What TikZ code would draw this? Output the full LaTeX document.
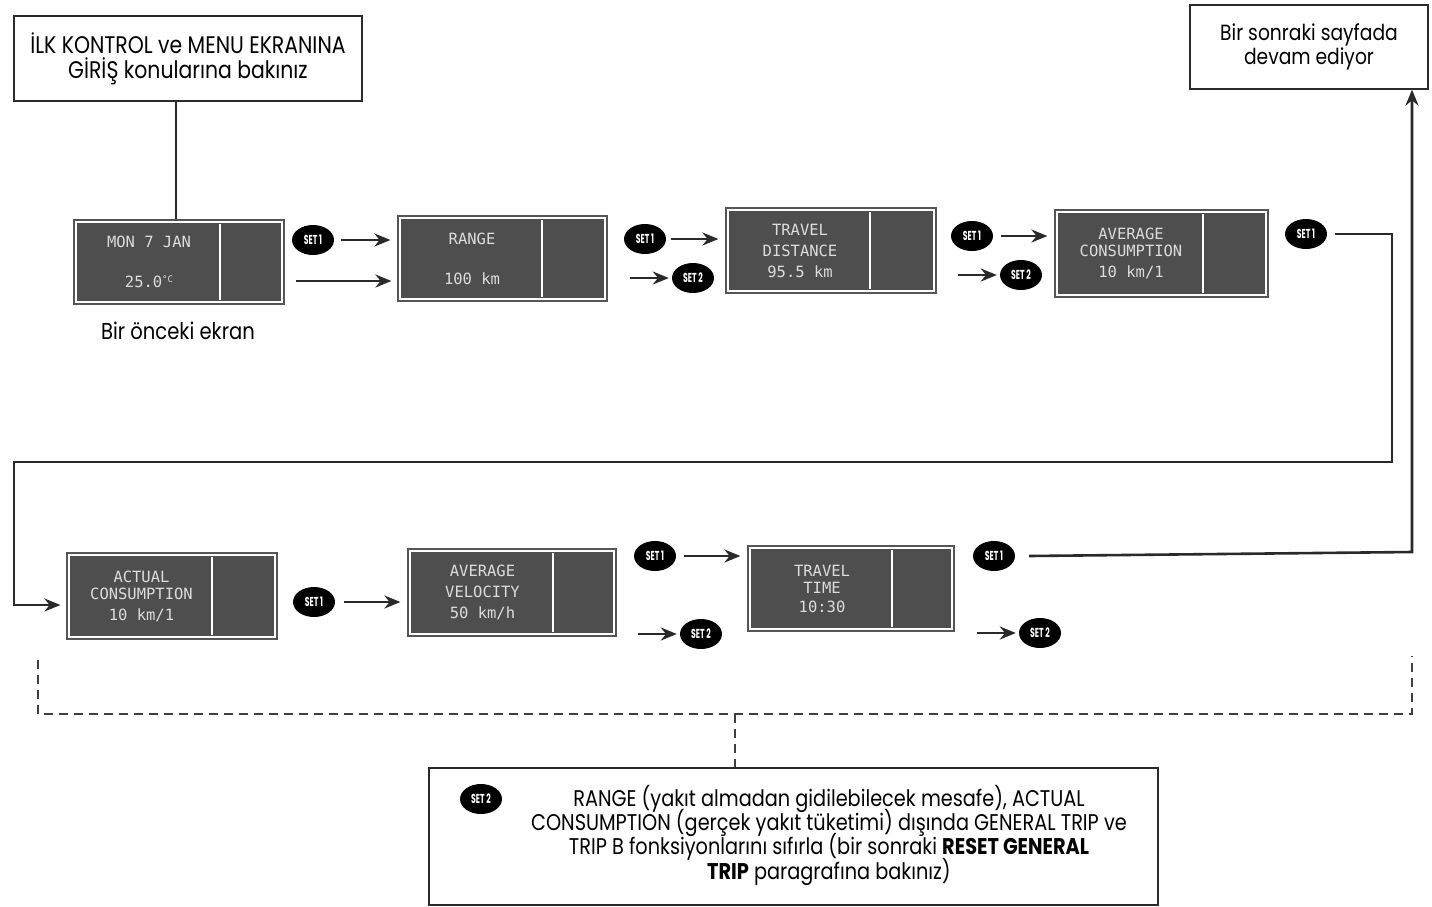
\documentclass[tikz,border=0pt]{standalone}
\usepackage{fontspec}
\setmainfont{Poppins}[FakeStretch=0.85]
\newfontfamily\dispfont{DejaVu Sans Mono}
\newfontfamily\btnfont{Poppins}[FakeStretch=0.6]
\usetikzlibrary{arrows.meta,shapes.geometric,calc,fit}
\definecolor{scr}{HTML}{4E4E4E}
\definecolor{lcd}{HTML}{DCDCDC}
\definecolor{ink}{HTML}{2A2A2A}
\tikzset{
  note/.style={draw=ink, line width=1.2pt, fill=white, align=center, inner sep=0pt},
  frame/.style={draw=ink!80, line width=1.2pt, fill=white, inner sep=0pt},
  lcdtext/.style={text=lcd, font=\dispfont\fontsize{15.5}{20}\selectfont, align=center, inner sep=0pt},
  setbtn/.style={ellipse, fill=black, text=white, minimum width=42pt, minimum height=30pt, inner sep=0pt, font=\btnfont\bfseries\fontsize{13}{13}\selectfont},
  arr/.style={draw=ink, line width=2.6pt, -{Stealth[length=16pt,width=13pt]}},
  link/.style={draw=ink, line width=2.2pt},
  dashline/.style={draw=ink!90, line width=2.2pt, dash pattern=on 9pt off 6pt},
}
% name, x1, y1, x2, y2, divider x, text
\newcommand\lcdbox[7]{%
  \node[frame, fit={(#2,#3)(#4,#5)}] (#1) {};
  \fill[scr] ($(#1.north west)+(4,4)$) rectangle ($(#1.south east)+(-4,-4)$);
  \draw[white, line width=1.5pt] (#6,#3+4) -- (#6,#5-4);
  \node[lcdtext] (#1t) at ({(#2+4+#6)/2},{(#3+#5)/2}) {#7};
}
\begin{document}
\begin{tikzpicture}[x=1pt,y=-1pt]
\useasboundingbox (0,0) rectangle (1432,906);
\fill[white] (0,0) rectangle (1432,906);

% top notes
\node[note, minimum width=348pt, minimum height=85pt, font=\fontsize{24}{25}\selectfont] (ilk) at (188,58.5)
  {İLK KONTROL ve MENU EKRANINA\\GİRİŞ konularına bakınız};
\node[note, minimum width=238pt, minimum height=84pt, font=\fontsize{22}{24}\selectfont] (bir) at (1309,47)
  {Bir sonraki sayfada\\devam ediyor};

% displays, row 1
\lcdbox{b1}{74}{220}{284}{304}{220}{MON 7 JAN\\[20pt]25.0\raisebox{5pt}{\fontsize{9}{9}\selectfont °C}}
\lcdbox{b2}{398}{216}{607}{301}{542}{RANGE\\[20pt]100 km}
\lcdbox{b3}{726}{208}{936}{293}{870}{TRAVEL\\[1pt]DISTANCE\\[1pt]95.5 km}
\lcdbox{b4}{1055}{210}{1268}{297}{1203}{AVERAGE\\[-3pt]CONSUMPTION\\[1pt]10 km/1}
% displays, row 2
\lcdbox{b5}{67}{553}{277}{639}{212}{ACTUAL\\[-3pt]CONSUMPTION\\[1pt]10 km/1}
\lcdbox{b6}{408}{549}{616}{636}{553}{AVERAGE\\[1pt]VELOCITY\\[1pt]50 km/h}
\lcdbox{b7}{748}{546}{954}{631}{892}{TRAVEL\\[-3pt]TIME\\[-1pt]10:30}

\node[font=\fontsize{23}{24}\selectfont] (prev) at (178,331) {Bir önceki ekran};

% SET buttons
\node[setbtn] (s1) at (313,240) {SET 1};
\node[setbtn] (s2) at (645,239) {SET 1};
\node[setbtn] (s3) at (693,278) {SET 2};
\node[setbtn] (s4) at (972,236) {SET 1};
\node[setbtn] (s5) at (1021,275) {SET 2};
\node[setbtn] (s6) at (1306,234) {SET 1};
\node[setbtn] (s7) at (314,602) {SET 1};
\node[setbtn] (s8) at (655,556) {SET 1};
\node[setbtn] (s9) at (701,634) {SET 2};
\node[setbtn] (s10) at (994,556) {SET 1};
\node[setbtn] (s11) at (1040,633) {SET 2};

% connectors row 1
\draw[link] ([xshift=-12pt]ilk.south) -- ([xshift=-3pt]b1.north);
\draw[arr, shorten >=7pt] ([xshift=7pt]s1.east) -- (s1 -| b2.west);
\coordinate (a1) at (296,281);
\draw[arr, shorten >=6pt] (a1) -- (a1 -| b2.west);
\draw[arr, shorten >=7pt] ([xshift=5pt]s2.east) -- (s2 -| b3.west);
\draw[arr] ([xshift=-42pt]s3.west) -- ([xshift=-3pt]s3.west);
\draw[arr, shorten >=7pt] ([xshift=8pt]s4.east) -- (s4 -| b4.west);
\draw[arr] ([xshift=-42pt]s5.west) -- ([xshift=-3pt]s5.west);

% loop to row 2
\coordinate (r1) at (1392,462);
\coordinate (l1) at (14,462);
\coordinate (l2) at (14,605);
\draw[arr, shorten >=6pt] ([xshift=8pt]s6.east) -| (r1) -- (l1) -- (l2) -- (l2 -| b5.west);

% connectors row 2
\draw[arr, shorten >=7pt] ([xshift=9pt]s7.east) -- (s7 -| b6.west);
\draw[arr, shorten >=7pt] ([xshift=8pt]s8.east) -- (s8 -| b7.west);
\draw[arr] ([xshift=-42pt]s9.west) -- ([xshift=-3pt]s9.west);
\draw[arr] ([xshift=-42pt]s11.west) -- ([xshift=-3pt]s11.west);
\coordinate (r2) at (1412,552);
\draw[arr] ([xshift=14pt]s10.east) -- (r2) -- (r2 |- bir.south);

% bottom note
\node[note, minimum width=729pt, minimum height=137pt] (info) at (793.5,836.5) {};
\node[setbtn] (s12) at (481,799) {SET 2};
\node[align=center, inner sep=0pt, font={\fontsize{22.7}{24.3}\selectfont\lineskiplimit=-60pt}] (infot) at (829,835)
  {RANGE (yakıt almadan gidilebilecek mesafe), ACTUAL\\
   CONSUMPTION (gerçek yakıt tüketimi) dışında GENERAL TRIP ve\\
   TRIP B fonksiyonlarını sıfırla (bir sonraki \textbf{RESET GENERAL}\\
   \textbf{TRIP} paragrafına bakınız)};

% dashed bracket
\coordinate (d1) at (38,660);
\coordinate (d2) at (38,714);
\coordinate (d3) at (1412,714);
\coordinate (d4) at (1412,656);
\coordinate (dm) at (735,714);
\draw[dashline] (d1) -- (d2) -- (d3) -- (d4);
\draw[dashline] (dm) -- (dm |- info.north);
\end{tikzpicture}
\end{document}
